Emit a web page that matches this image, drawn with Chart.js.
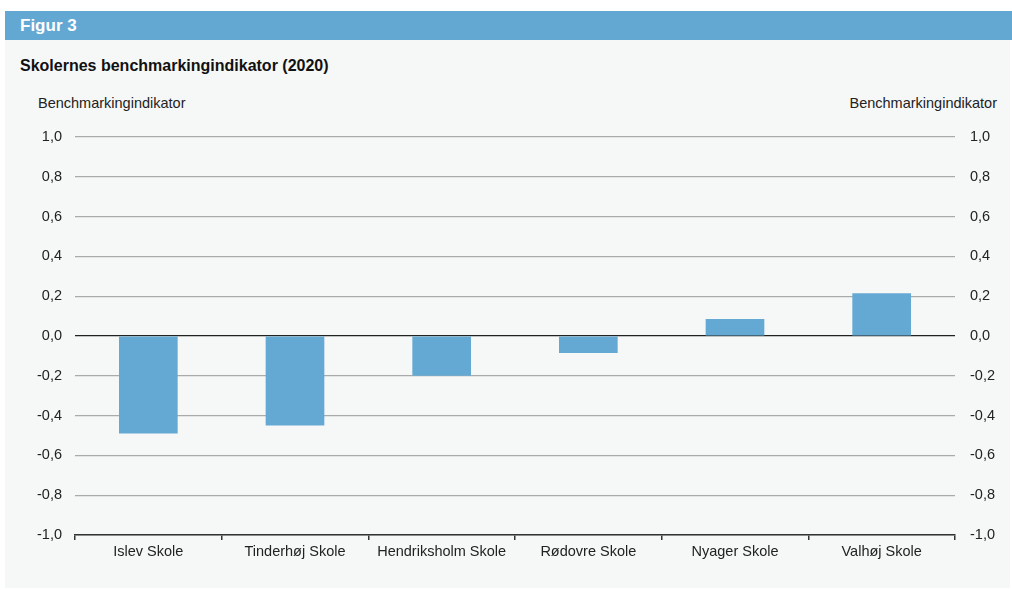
<!DOCTYPE html>
<html>
<head>
<meta charset="utf-8">
<script src="https://cdn.jsdelivr.net/npm/chart.js@4/dist/chart.umd.min.js"></script>
<style>
  body { margin: 0; background: #fff; font-family: "Liberation Sans", Arial, sans-serif; }
  #wrap { position: relative; width: 1012px; height: 590px; }
  #head { position: absolute; left: 5px; top: 11px; width: 1007px; height: 29px; background: #63a8d3; }
  #head span { position: absolute; left: 15px; top: 5px; color: #fff; font-weight: bold; font-size: 17px; }
  #panel { position: absolute; left: 5px; top: 40px; width: 1005px; height: 548px; background: #f6f8f8; }
  #title { position: absolute; left: 20px; top: 57px; font-weight: bold; font-size: 16px; color: #111; }
  .ytitle { position: absolute; top: 95px; font-size: 14.5px; color: #222; }
  #chart { position: absolute; left: 0; top: 0; }
</style>
</head>
<body>
<div id="wrap">
  <div id="head"><span>Figur 3</span></div>
  <div id="panel"></div>
  <div id="title">Skolernes benchmarkingindikator (2020)</div>
  <div class="ytitle" style="left:38px">Benchmarkingindikator</div>
  <div class="ytitle" style="right:15px">Benchmarkingindikator</div>
  <canvas id="chart" width="1012" height="590"></canvas>
</div>
<script>
// Skolernes benchmarkingindikator (2020)
const schools = ["Islev Skole", "Tinderhøj Skole", "Hendriksholm Skole", "Rødovre Skole", "Nyager Skole", "Valhøj Skole"];
const indicator = [-0.49, -0.45, -0.2, -0.085, 0.085, 0.215];
const axisMin = -1.0;
const axisMax = 1.0;
const axisStep = 0.2;

const fmt = (v) => {
  const s = Number(v).toFixed(1);
  return (s === "-0.0" ? "0.0" : s).replace(".", ",");
};

const tickFont = { family: "Liberation Sans", size: 14.5 };

const ctx = document.getElementById("chart").getContext("2d");
const chart = new Chart(ctx, {
  type: "bar",
  data: {
    labels: schools,
    datasets: [
      {
        label: "Benchmarkingindikator",
        data: indicator,
        backgroundColor: "#64a9d4",
        borderWidth: 0,
        barPercentage: 0.4,
        categoryPercentage: 1.0,
      },
    ],
  },
  options: {
    responsive: false,
    animation: false,
    layout: { padding: { top: 137, left: 0, right: 0, bottom: 0 } },
    plugins: {
      legend: { display: false },
      tooltip: { enabled: false },
    },
    scales: {
      x: {
        grid: {
          drawOnChartArea: false,
          drawTicks: true,
          tickLength: 5,
          color: "#333",
          lineWidth: 1.5,
        },
        border: { display: true, color: "#333", width: 1.5 },
        ticks: { color: "#222", font: tickFont, padding: 3, maxRotation: 0 },
        afterFit: (scale) => { scale.height = 55; },
      },
      y: {
        position: "left",
        min: axisMin,
        max: axisMax,
        border: { display: false },
        grid: {
          drawTicks: false,
          color: (c) => (c.tick && c.tick.value === 0 ? "#222" : "#aaa"),
          lineWidth: 1.2,
        },
        ticks: { stepSize: axisStep, color: "#222", font: tickFont, padding: 13, callback: fmt },
        afterFit: (scale) => { scale.width = 75; },
      },
      y2: {
        position: "right",
        min: axisMin,
        max: axisMax,
        border: { display: false },
        grid: { display: false, drawTicks: false },
        ticks: { stepSize: axisStep, color: "#222", font: tickFont, padding: 15, callback: fmt },
        afterFit: (scale) => { scale.width = 57; },
      },
    },
  },
});
</script>
</body>
</html>
